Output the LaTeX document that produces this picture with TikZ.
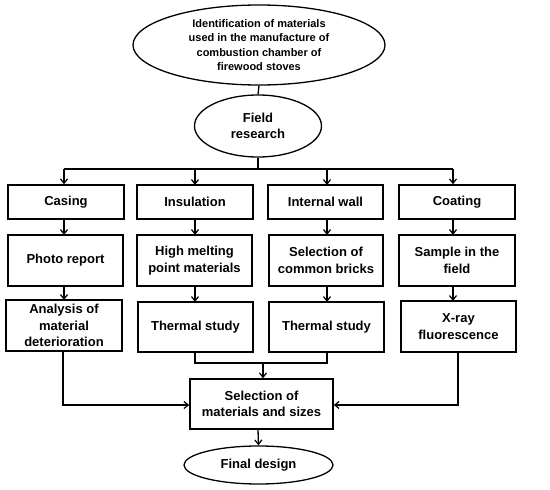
\documentclass[tikz,border=0pt]{standalone}
\usepackage{fontspec}
\setmainfont{Liberation Sans}
\usetikzlibrary{shapes.geometric,arrows.meta}
\begin{document}
\begin{tikzpicture}[x=1pt,y=-1pt,
  line width=1.3pt,
  arr/.style={-{Straight Barb[length=4.5pt,width=7pt,line width=1.2pt]}},
  boxs/.style={draw,rectangle,align=center,font=\bfseries\fontsize{13}{16.5}\selectfont,inner sep=0pt},
  ells/.style={draw,ellipse,align=center,inner sep=0pt}]
\useasboundingbox (0,0) rectangle (550,490);
\node[ells,minimum width=252pt,minimum height=80pt,font=\bfseries\fontsize{11}{14.4}\selectfont] (top) at (259,45) {Identification of materials\\used in the manufacture of\\combustion chamber of\\firewood stoves};
\node[ells,minimum width=127pt,minimum height=62pt,font=\bfseries\fontsize{13}{16.5}\selectfont] (field) at (258,126) {Field\\research};
% row 1
\node[boxs,minimum width=116pt,minimum height=34pt] (c1) at (66,202) {Casing};
\node[boxs,minimum width=116pt,minimum height=34pt] (i1) at (195,202) {Insulation};
\node[boxs,minimum width=115pt,minimum height=34pt] (w1) at (325.5,202) {Internal wall};
\node[boxs,minimum width=116pt,minimum height=34pt] (k1) at (457,202) {Coating};
% row 2
\node[boxs,minimum width=115pt,minimum height=51pt] (c2) at (65.5,260.5) {Photo report};
\node[boxs,minimum width=115pt,minimum height=51pt] (i2) at (194.5,260.5) {High melting\\point materials};
\node[boxs,minimum width=114pt,minimum height=51pt] (w2) at (326,260.5) {Selection of\\common bricks};
\node[boxs,minimum width=116pt,minimum height=51pt] (k2) at (457,260.5) {Sample in the\\field};
% row 3
\node[boxs,minimum width=116pt,minimum height=51pt] (c3) at (64,325.5) {Analysis of\\material\\deterioration};
\node[boxs,minimum width=115pt,minimum height=50pt] (i3) at (195.5,327) {Thermal study};
\node[boxs,minimum width=115pt,minimum height=50pt] (w3) at (326.5,327) {Thermal study};
\node[boxs,minimum width=115pt,minimum height=51pt] (k3) at (458.5,326.5) {X-ray\\fluorescence};
% selection
\node[boxs,minimum width=143pt,minimum height=50pt] (sel) at (261.5,404) {Selection of\\materials and sizes};
\node[ells,minimum width=149pt,minimum height=38pt,font=\bfseries\fontsize{13}{16.5}\selectfont] (fin) at (258.5,465) {Final design};
% connectors
\coordinate (bus) at (258,169);
\coordinate (busl) at (64,169);
\coordinate (busr) at (453,169);
\draw (top.south) -- (field.north);
\draw (field.south) -- (bus);
\draw (busl) -- (busr);
\draw[arr] (busl) -- (busl |- c1.north);
\draw[arr] (195,169) -- (195,185);
\draw[arr] (327,169) -- (327,185);
\draw[arr] (busr) -- (busr |- k1.north);
\draw[arr] (64,219) -- (64,235);
\draw[arr] (195,219) -- (195,235);
\draw[arr] (327,219) -- (327,235);
\draw[arr] (453,219) -- (453,235);
\draw[arr] (64,286) -- (64,300);
\draw[arr] (195,286) -- (195,302);
\draw[arr] (327,286) -- (327,302);
\draw[arr] (453,286) -- (453,301);
\coordinate (j) at (263,363);
\draw (195,352) -- (195,363) -- (327,363) -- (327,352);
\draw[arr] (j) -- (j |- sel.north);
\draw[arr] (63,351) -- (63,405) -- (sel.west |- 0,405);
\draw[arr] (458,352) -- (458,405) -- (sel.east |- 0,405);
\draw[arr] (sel.south -| 258,0) -- (fin.north);
\end{tikzpicture}
\end{document}
